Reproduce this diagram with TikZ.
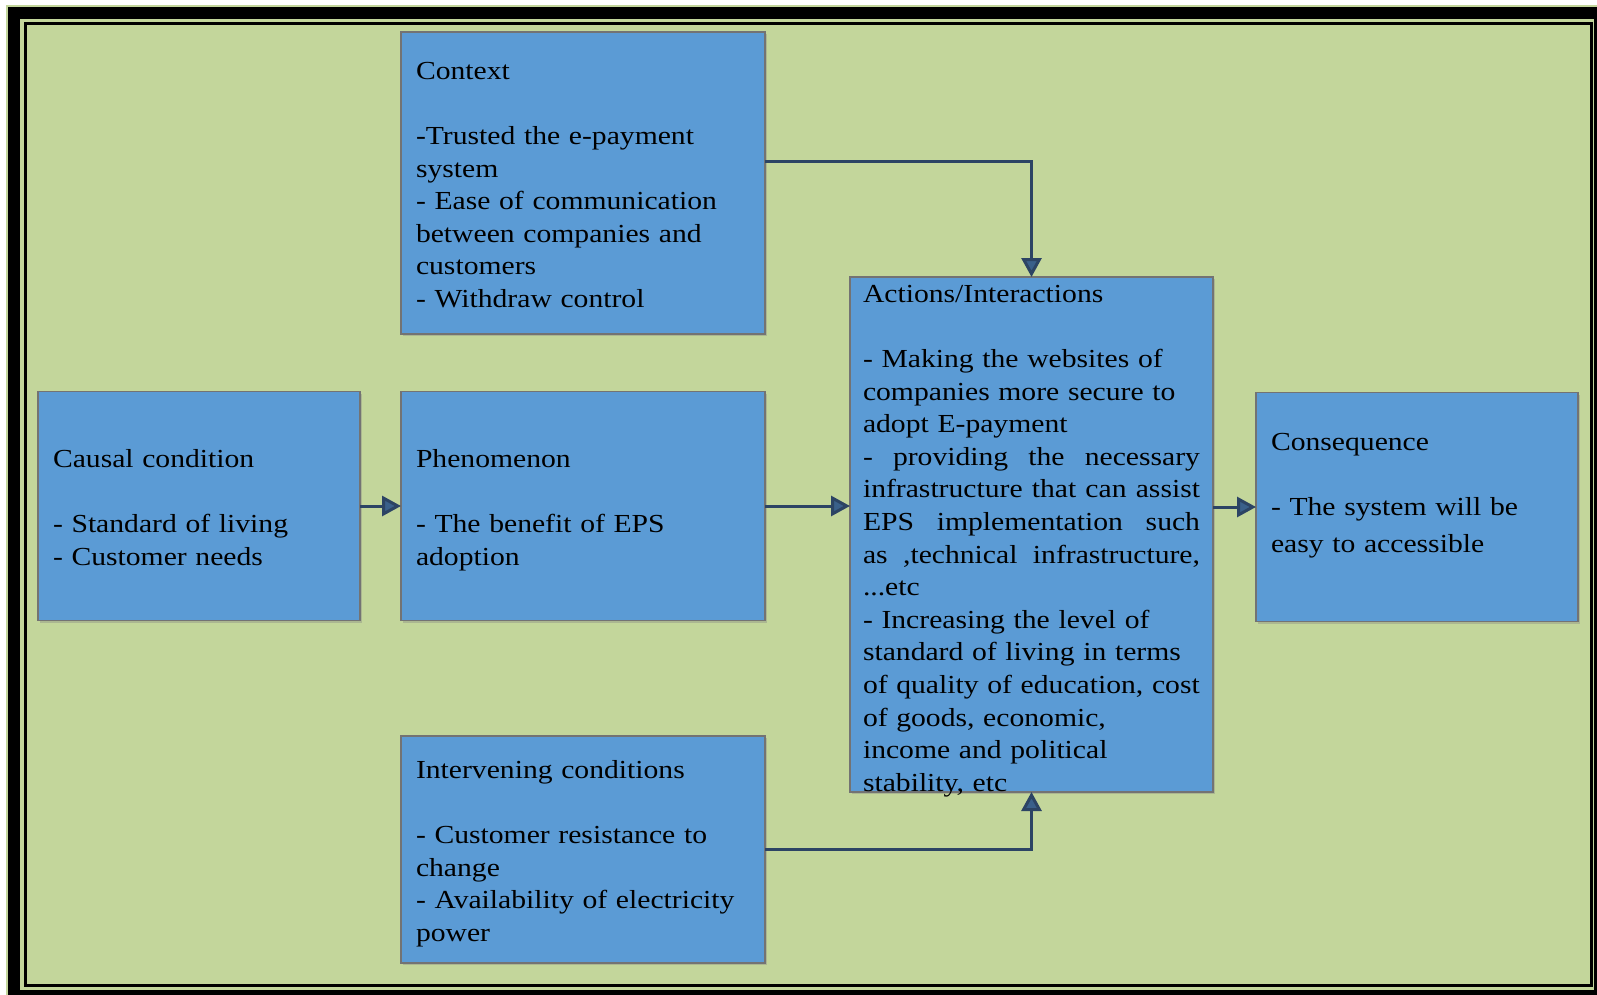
\documentclass[tikz,border=0pt]{standalone}
\usepackage{fontspec}
\setmainfont{Liberation Serif}[FakeStretch=1.14]
\usepackage{tikz}
\usetikzlibrary{arrows.meta, positioning, shadows}
\definecolor{boxblue}{RGB}{91,155,213}
\definecolor{bggreen}{RGB}{195,214,155}
\definecolor{arrowline}{RGB}{44,68,100}
\definecolor{arrowhead}{RGB}{58,96,138}
\newcommand{\fullline}[1]{\makebox[337pt][s]{\spaceskip=.3333em plus 3em\relax #1}}
\newcommand{\firstline}{\rule{0pt}{27pt}}
\newcommand{\lastline}{\rule[-6pt]{0pt}{6pt}}

\begin{document}
\begin{tikzpicture}[
    x=1pt, y=-1pt,
    box/.style={rectangle, draw=black!55, line width=1.5pt, fill=boxblue, outer sep=0pt,
        inner xsep=15pt, align=left, text width=334pt, minimum width=364pt,
        font=\fontsize{26}{32.6}\selectfont,
        drop shadow={shadow xshift=2pt, shadow yshift=-2pt, opacity=0.35}},
    link/.style={draw=arrowline, line width=3pt,
        -{Triangle[length=19pt, width=20pt, fill=arrowhead]}}
]
\useasboundingbox (0,0) rectangle (1597,995);
\fill[white] (0,0) rectangle (1597,995);

% Frame
\fill[bggreen] (6,5) rectangle (1597,995);
\draw[line width=12pt] (14,13) rectangle (1600,996);
\fill[bggreen] (20,19) rectangle (1594,990);
\draw[line width=3pt] (25,24) rectangle (1591.5,985);

\node[box, minimum height=229pt] (phen) at (583,506) {\firstline Phenomenon\\[32.6pt]- The benefit of EPS\\adoption\lastline};
\node[box, minimum width=322pt, text width=292pt, minimum height=229pt, left=41pt of phen] (causal) {\firstline Causal condition\\[32.6pt]- Standard of living\\- Customer needs\lastline};
\node[box, minimum height=302pt, above=57.5pt of phen] (context) {\firstline Context\\[32.6pt]-Trusted the e-payment\\system\\- Ease of communication\\between companies and\\customers\\- Withdraw control\lastline};
\node[box, minimum height=227pt, below=115.5pt of phen] (interv) {\firstline Intervening conditions\\[32.6pt]- Customer resistance to\\change\\- Availability of electricity\\power\lastline};
\node[box, minimum width=363pt, minimum height=515pt, inner xsep=13pt, inner ysep=8pt, text width=337pt] (actions) at (1031.5,534.5) {\parbox[c][499pt][t]{337pt}{Actions/Interactions\\[32.6pt]
- Making the websites of\\
companies more secure to\\
adopt E-payment\\
\fullline{- providing the necessary}\\
\fullline{infrastructure that can assist}\\
\fullline{EPS implementation such}\\
\fullline{as ,technical infrastructure,}\\
...etc\\
- Increasing the level of\\
standard of living in terms\\
of quality of education, cost\\
of goods, economic,\\
income and political\\
stability, etc}};
\node[box, minimum width=322pt, text width=292pt, minimum height=229pt] (conseq) at (1417,507) {\firstline Consequence\\[32.6pt]- The system will be\\[4pt]easy to accessible\\\mbox{}\lastline};

\draw[link] ([yshift=21pt]context.east) -| (actions.north);
\draw[link] (interv.east) -| (actions.south);
\draw[link] (causal) -- (phen);
\draw[link] (phen.east) -- (phen.east -| actions.west);
\draw[link] (actions.east |- conseq.west) -- (conseq.west);

\end{tikzpicture}
\end{document}
